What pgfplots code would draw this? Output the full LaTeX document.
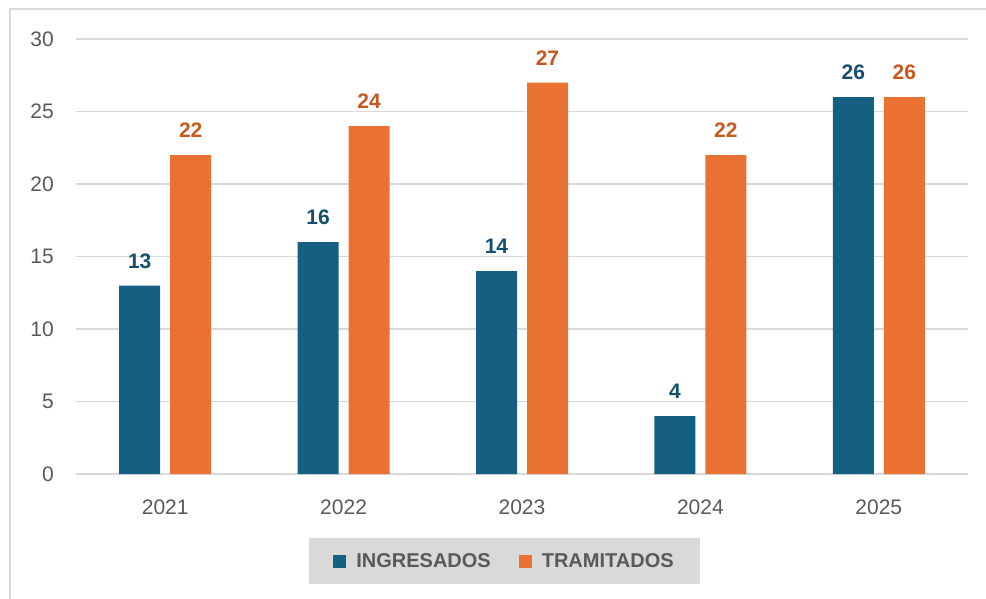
\documentclass[border=0pt]{standalone}
\usepackage{pgfplots}
\pgfplotsset{compat=1.18}
\usepackage{fontspec}
\setmainfont{Liberation Sans}
\definecolor{cblue}{HTML}{156082}
\definecolor{corange}{HTML}{E97132}
\definecolor{lblblue}{HTML}{14506E}
\definecolor{lblorange}{HTML}{C8581C}
\definecolor{txt}{HTML}{595959}
\definecolor{gridc}{HTML}{D9D9D9}
\begin{document}
\begin{tikzpicture}
\useasboundingbox (0,0) rectangle (986pt,-599pt);
\draw[gridc, line width=2pt] (10pt,-599pt) -- (10pt,-9pt) -- (986pt,-9pt);
\begin{axis}[
  at={(76pt,-474pt)}, anchor=south west,
  scale only axis, width=892pt, height=435pt,
  xmin=-0.5, xmax=4.5, ymin=0, ymax=30,
  clip=false,
  ybar=10pt, bar width=41pt,
  axis line style={draw=none},
  ytick={0,5,...,30}, xtick={0,...,4}, xticklabels={2021,2022,2023,2024,2025},
  major tick length=0pt,
  ymajorgrids, grid style={gridc, line width=1.5pt},
  /pgf/number format/assume math mode=true,
  tick label style={font=\fontsize{21}{24}\selectfont, text=txt},
  yticklabel style={anchor=east, inner sep=0pt, xshift=-22pt},
  xticklabel style={anchor=north, inner sep=0pt, yshift=-26pt},
  nodes near coords,
  every node near coord/.append style={font=\bfseries\fontsize{21}{24}\selectfont, inner sep=0pt, anchor=south, yshift=17pt},
  legend columns=2,
  legend style={at={(0.4804,-0.2)}, anchor=center, fill=gridc, draw=none,
    font=\bfseries\fontsize{20}{24}\selectfont, text=txt,
    inner xsep=24pt, inner ysep=13.5pt,
    /tikz/every odd column/.append style={column sep=8pt},
    /tikz/every even column/.append style={column sep=26pt}},
  legend image code/.code={\fill[#1, draw=none] (0pt,-6.5pt) rectangle (13pt,6.5pt);},
]
\addplot[fill=cblue, draw=none, every node near coord/.append style={text=lblblue}] coordinates {(0,13) (1,16) (2,14) (3,4) (4,26)};
\addplot[fill=corange, draw=none, every node near coord/.append style={text=lblorange}] coordinates {(0,22) (1,24) (2,27) (3,22) (4,26)};
\legend{INGRESADOS, TRAMITADOS}
\end{axis}
\end{tikzpicture}
\end{document}
